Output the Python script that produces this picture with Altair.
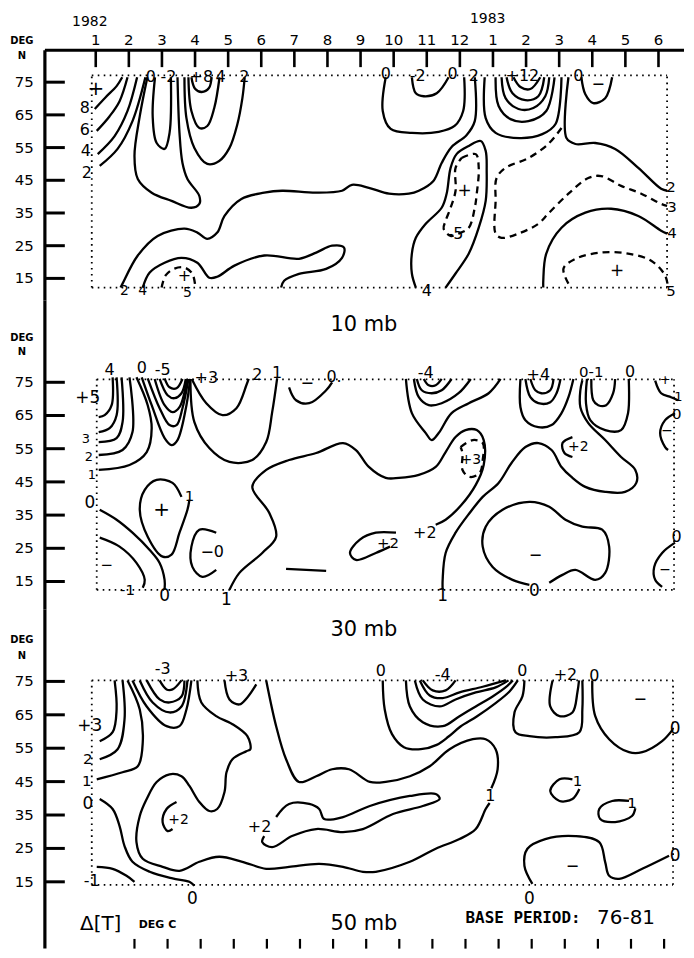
import altair as alt
import pandas as pd

# ---------------- layout / scale constants ----------------
XDOM = [-2.6506, 17.7711]          # months since Jan 1982 (0 = Jan 1982)
W = 678
PANEL_H = [292, 310, 340]
YDOM = [[8.232, 97.256], [6.532, 99.625], [-5.0, 96.493]]   # latitude (deg N)

FONT = "DejaVu Sans"
MONO = "DejaVu Sans Mono"

# ---------------- axis values ----------------
MONTH_POS = [0, 1, 2, 3, 4, 5, 6, 7, 8, 9, 10, 11, 12, 13, 14, 15, 16, 17]
MONTH_LABELS = ["1", "2", "3", "4", "5", "6", "7", "8", "9", "10", "11", "12",
                "1", "2", "3", "4", "5", "6"]
YEAR_LABELS = [("1982", -0.18, 93.3), ("1983", 11.84, 94.2)]
LAT_TICKS = [75, 65, 55, 45, 35, 25, 15]
BOTTOM_TICKS = [1.17, 2.17, 3.17, 4.17, 5.17, 6.17, 7.17, 8.17, 9.17, 10.17,
                11.17, 12.17, 13.17, 14.17, 15.17, 16.17, 17.17]
AXIS_M, TICK_END_M, LABEL_M = -1.536, -0.934, -1.87
BOX = [(-0.12, 17.26, 12.2, 77.1), (0.03, 17.47, 12.5, 75.9), (-0.12, 17.44, 14.1, 75.3)]
DEG_LAT = [(87.5, 82.9), (88.2, 84.0), (87.5, 82.5)]

# ---------------- 10 mb contours (month, lat) ----------------
P1_CURVES = [
    ("solid", [(-0.03, 66.8), (0.3, 70.4), (0.63, 73.8), (0.8, 76.5)]),
    ("solid", [(0.03, 60.1), (0.42, 64.6), (0.72, 69.2), (0.96, 76.5)]),
    ("solid", [(0.06, 53.0), (0.57, 58.5), (0.96, 66.2), (1.25, 76.5)]),
    ("solid", [(0.12, 49.4), (0.66, 54.6), (1.11, 63.1), (1.5, 76.5)]),
    ("solid", [(1.56, 76.5), (1.33, 64.6), (1.17, 52.4), (1.27, 45.4), (1.69, 41.2), (2.29, 38.7),
               (2.89, 36.6), (3.13, 37.8), (3.13, 40.2), (2.77, 45.4), (2.62, 50.3), (2.53, 59.5), (2.47, 76.5)]),
    ("solid", [(1.79, 76.5), (1.72, 64.6), (1.84, 56.4), (2.08, 54.6), (2.23, 59.5), (2.27, 76.5)]),
    ("solid", [(2.89, 76.5), (3.0, 73.0), (3.2, 72.0), (3.42, 73.2), (3.5, 76.5)]),
    ("solid", [(2.8, 76.5), (2.89, 66.2), (3.13, 61.0), (3.37, 61.6), (3.58, 67.1), (3.74, 76.5)]),
    ("solid", [(2.68, 76.5), (2.74, 64.0), (2.98, 54.9), (3.37, 50.0), (3.73, 50.9), (4.04, 54.9),
               (4.28, 62.2), (4.43, 70.1), (4.5, 76.5)]),
    ("solid", [(0.75, 12.2), (0.81, 13.4), (1.27, 22.0), (1.87, 28.0), (2.68, 30.2), (3.07, 29.0),
               (3.37, 27.1), (3.67, 29.0), (3.89, 34.1), (4.4, 39.3), (5.09, 41.2), (5.63, 41.8),
               (6.66, 41.2), (7.44, 41.8), (7.74, 43.6), (8.25, 42.7), (8.86, 40.9), (9.46, 40.9),
               (9.76, 41.8), (10.2, 44.8), (10.45, 50.3), (10.75, 55.2), (11.2, 58.8), (11.45, 63.1),
               (11.45, 76.5)]),
    ("solid", [(1.42, 12.2), (1.63, 16.8), (2.08, 19.8), (2.59, 21.3), (3.07, 19.8), (3.43, 15.2),
               (3.67, 15.5), (4.19, 18.9), (5.09, 22.0), (6.14, 21.0), (6.66, 22.9), (7.14, 25.0),
               (7.5, 24.4), (7.44, 21.3), (6.96, 17.9), (6.14, 16.4), (5.69, 14.3), (5.6, 12.2)]),
    ("dash", [(1.99, 12.2), (2.11, 15.9), (2.38, 18.0), (2.68, 18.3), (2.92, 16.4), (3.01, 12.2)]),
    ("solid", [(8.76, 76.5), (8.67, 66.2), (8.91, 60.7), (9.55, 59.5), (10.36, 59.8), (10.84, 61.6),
               (11.1, 66.2), (11.13, 76.5)]),
    ("solid", [(9.55, 76.5), (9.67, 71.6), (9.91, 70.7), (10.3, 71.6), (10.66, 76.5)]),
    ("solid", [(11.75, 76.5), (11.78, 64.0), (12.08, 59.5), (12.8, 57.9), (13.49, 59.1), (13.89, 62.2), (14.07, 76.5)]),
    ("solid", [(12.08, 76.5), (12.17, 67.7), (12.53, 63.7), (13.07, 63.1), (13.61, 66.2), (13.86, 76.5)]),
    ("solid", [(12.26, 76.5), (12.38, 70.1), (12.77, 66.8), (13.22, 67.1), (13.58, 70.7), (13.7, 76.5)]),
    ("solid", [(12.41, 76.5), (12.59, 71.6), (12.98, 69.5), (13.37, 70.7), (13.55, 76.5)]),
    ("solid", [(12.62, 76.5), (12.83, 73.5), (13.13, 72.9), (13.43, 76.5)]),
    ("solid", [(14.67, 76.5), (14.79, 71.3), (15.03, 68.6), (15.39, 70.1), (15.6, 76.5)]),
    ("solid", [(14.28, 76.5), (14.22, 57.9), (14.49, 56.1), (15.09, 56.4), (15.69, 54.6), (16.39, 48.8),
               (17.08, 42.4), (17.26, 41.8)]),
    ("dash", [(14.07, 61.0), (13.67, 56.1), (13.07, 51.8), (12.38, 48.8), (12.11, 45.7), (12.08, 38.7),
              (12.08, 28.7), (12.26, 27.4), (12.77, 28.7), (13.37, 31.7), (13.67, 34.8), (14.28, 40.9),
              (14.88, 45.7), (15.27, 46.3), (15.87, 43.3), (16.48, 40.9), (17.08, 37.8), (17.26, 37.2)]),
    ("solid", [(13.52, 12.2), (13.52, 14.3), (13.61, 22.6), (14.07, 30.5), (14.79, 35.1), (15.57, 36.3),
               (16.39, 34.1), (17.08, 29.6), (17.26, 28.7)]),
    ("dash", [(14.28, 13.4), (14.13, 18.0), (14.49, 21.0), (15.27, 22.9), (16.08, 22.6), (16.78, 20.4),
              (17.2, 15.9), (17.29, 12.2)]),
    ("solid", [(9.67, 12.2), (9.55, 16.5), (9.55, 22.6), (9.67, 27.4), (9.97, 31.7), (10.45, 36.6),
               (10.6, 40.9), (10.72, 48.8), (10.9, 53.0), (11.27, 55.5), (11.63, 57.0), (11.78, 54.0),
               (11.81, 47.9), (11.78, 38.7), (11.57, 30.5), (11.27, 22.6), (10.87, 16.5), (10.57, 12.2)]),
    ("dash", [(11.05, 51.8), (11.48, 53.0), (11.57, 48.8), (11.51, 40.9), (11.45, 36.6), (11.27, 30.5),
              (10.96, 28.7), (10.72, 28.0), (10.51, 30.2), (10.57, 32.6), (10.72, 36.6), (10.87, 41.8),
              (10.87, 48.8), (11.05, 51.8)]),
]
P1_LABELS = [
    ("+", 0.0, 72.9, 20), ("8", -0.33, 67.0, 16), ("6", -0.33, 60.4, 16), ("4", -0.3, 53.9, 16),
    ("2", -0.27, 47.3, 16), ("0", 1.66, 76.6, 16), ("-2", 2.2, 76.6, 16), ("+8", 3.19, 76.6, 16),
    ("4", 3.77, 76.6, 16), ("2", 4.49, 76.6, 16), ("2", 0.87, 11.0, 14), ("4", 1.42, 11.0, 14),
    ("+", 2.68, 15.6, 16), ("5", 2.77, 10.6, 14), ("0", 8.76, 77.4, 16), ("-2", 9.73, 77.0, 16),
    ("0", 10.78, 77.4, 16), ("2", 11.42, 77.0, 16), ("+12", 12.89, 77.0, 16), ("0", 14.58, 77.0, 16),
    ("−", 15.18, 74.5, 16), ("+", 11.14, 41.8, 17), ("-5", 10.87, 28.5, 16), ("+", 15.75, 17.4, 17),
    ("2", 17.38, 43.0, 15), ("3", 17.41, 36.7, 15), ("4", 17.41, 28.8, 15), ("5", 17.38, 11.0, 15),
    ("4", 10.0, 11.0, 16),
]

# ---------------- 30 mb contours ----------------
P2_CURVES = [
    ("solid", [(0.51, 76.5), (0.48, 68.1), (0.27, 65.1), (0.09, 64.5)]),
    ("solid", [(0.63, 76.5), (0.63, 65.1), (0.42, 61.2), (0.09, 60.0)]),
    ("solid", [(0.78, 76.5), (0.81, 63.0), (0.63, 58.2), (0.09, 57.0)]),
    ("solid", [(1.02, 76.5), (1.11, 60.0), (0.81, 54.6), (0.09, 53.1)]),
    ("solid", [(1.23, 76.5), (1.57, 68.1), (1.69, 61.2), (1.54, 54.0), (1.02, 50.1), (0.09, 48.6)]),
    ("solid", [(1.39, 76.5), (1.69, 68.1), (2.08, 58.2), (2.29, 56.1), (2.47, 57.6), (2.74, 68.1), (2.85, 76.0)]),
    ("solid", [(1.57, 76.2), (1.93, 67.2), (2.23, 62.1), (2.44, 62.1), (2.62, 67.2), (2.8, 76.0)]),
    ("solid", [(1.78, 76.0), (2.08, 68.1), (2.32, 66.0), (2.53, 67.5), (2.76, 76.0)]),
    ("solid", [(1.93, 76.0), (2.17, 71.1), (2.38, 70.2), (2.59, 71.7), (2.72, 76.0)]),
    ("solid", [(2.08, 76.2), (2.23, 73.5), (2.44, 73.2), (2.62, 76.0)]),
    ("solid", [(2.9, 76.0), (3.34, 68.7), (3.83, 65.1), (4.25, 67.2), (4.55, 74.1), (4.62, 76.0)]),
    ("solid", [(2.86, 76.0), (2.98, 63.0), (3.43, 55.2), (4.04, 51.0), (4.73, 51.6), (5.15, 57.0),
               (5.33, 66.0), (5.48, 76.2)]),
    ("solid", [(5.84, 73.5), (6.05, 69.6), (6.45, 68.7), (6.96, 72.6), (7.14, 75.0)]),
    ("solid", [(4.04, 12.5), (4.34, 17.6), (5.03, 23.6), (5.45, 28.5), (5.24, 35.7), (4.73, 43.5),
               (5.15, 48.6), (5.84, 51.6), (6.66, 53.7), (7.47, 56.7), (7.86, 54.6), (8.25, 49.5),
               (8.76, 46.2), (9.16, 46.2), (9.76, 47.1), (10.27, 49.5), (10.57, 54.0), (10.87, 58.5),
               (11.17, 60.6), (11.51, 60.6), (11.72, 57.6), (11.72, 50.1), (11.48, 44.1), (11.05, 38.1),
               (10.57, 33.6), (10.27, 32.1)]),
    ("dash", [(11.02, 55.5), (11.39, 57.6), (11.69, 56.7), (11.69, 51.6), (11.6, 47.7), (11.3, 46.5),
              (11.08, 48.6), (11.08, 53.7), (11.02, 55.5)]),
    ("solid", [(9.07, 29.7), (8.46, 29.7), (7.98, 27.6), (7.68, 23.6), (7.86, 21.5), (8.46, 23.6), (8.89, 25.5)]),
    ("solid", [(10.48, 12.5), (10.48, 15.5), (10.57, 23.6), (10.87, 29.7), (11.3, 35.7), (11.69, 40.5),
               (12.17, 44.7), (12.56, 50.7), (12.98, 55.5), (13.37, 56.7), (13.77, 54.6), (14.07, 49.5),
               (14.37, 46.5), (14.79, 43.5), (15.39, 42.0), (15.99, 42.0), (16.33, 44.7), (16.3, 48.6),
               (15.87, 52.5), (15.39, 57.6), (14.88, 62.7), (14.64, 67.5), (14.64, 72.6), (14.7, 75.6)]),
    ("solid", [(12.83, 76.0), (12.83, 67.5), (12.98, 63.6), (13.37, 61.5), (13.77, 62.1), (14.07, 65.7),
               (14.28, 70.5), (14.43, 76.0)]),
    ("solid", [(12.98, 76.0), (13.13, 70.5), (13.37, 68.7), (13.73, 69.0), (13.92, 71.7), (14.04, 76.0)]),
    ("solid", [(13.13, 76.0), (13.28, 72.6), (13.46, 71.7), (13.73, 72.6), (13.83, 76.0)]),
    ("solid", [(14.84, 76.0), (14.81, 68.7), (14.94, 63.6), (15.39, 60.6), (15.87, 60.6), (16.08, 65.7), (16.1, 76.0)]),
    ("solid", [(14.97, 76.0), (15.03, 69.6), (15.18, 68.1), (15.42, 68.1), (15.63, 71.7), (15.69, 76.0)]),
    ("solid", [(16.9, 75.5), (17.08, 71.7), (17.38, 70.5), (17.59, 69.6)]),
    ("solid", [(17.5, 65.7), (17.2, 63.6), (17.05, 59.7), (17.2, 55.5), (17.29, 54.6)]),
    ("solid", [(17.5, 26.7), (17.11, 23.6), (16.87, 19.4), (16.9, 15.5), (17.11, 13.4)]),
    ("solid", [(9.37, 76.0), (9.55, 65.7), (9.97, 59.7), (10.15, 57.6), (10.36, 59.7), (10.75, 65.7),
               (11.27, 68.7), (11.87, 71.7), (12.23, 76.0)]),
    ("solid", [(9.61, 76.0), (9.76, 70.5), (10.06, 68.1), (10.45, 68.7), (10.96, 71.7), (11.33, 76.0)]),
    ("solid", [(9.7, 76.0), (9.85, 72.6), (10.15, 71.7), (10.45, 72.6), (10.75, 76.0)]),
    ("solid", [(9.91, 76.0), (10.06, 74.1), (10.27, 74.1), (10.45, 76.0)]),
    ("solid", [(13.1, 14.0), (12.59, 15.5), (11.99, 19.4), (11.69, 25.5), (11.78, 31.5), (12.29, 36.6),
               (13.1, 39.0), (13.7, 37.5), (14.19, 33.6), (14.7, 31.5), (15.3, 30.6), (15.51, 25.5),
               (15.39, 17.6), (15.09, 15.5), (14.49, 18.5), (14.1, 17.0), (13.7, 14.6)]),
    ("solid", [(14.4, 58.5), (14.1, 56.7), (14.16, 53.7), (14.4, 52.5)]),
    ("solid", [(2.59, 40.5), (2.32, 44.7), (1.84, 45.6), (1.48, 42.6), (1.33, 36.6), (1.57, 28.5),
               (2.02, 22.5), (2.29, 23.1), (2.53, 29.7), (2.77, 36.6), (2.83, 39.6)]),
    ("solid", [(3.64, 29.7), (3.13, 30.6), (2.89, 25.5), (2.92, 19.4), (3.22, 16.4), (3.64, 18.5)]),
    ("solid", [(0.12, 36.6), (0.63, 33.6), (1.11, 29.7), (1.63, 24.5), (1.93, 20.6), (2.08, 15.5), (2.08, 12.5)]),
    ("solid", [(0.12, 28.2), (0.72, 25.5), (1.23, 20.6), (1.48, 15.5), (1.42, 13.1)]),
    ("solid", [(5.75, 18.8), (6.96, 18.2)]),
]
P2_LABELS = [
    ("4", 0.42, 78.6, 16), ("0", 1.39, 79.2, 16), ("-5", 2.02, 78.6, 16), ("+3", 3.34, 76.2, 16),
    ("2", 4.88, 77.1, 16), ("1", 5.48, 77.7, 16), ("−", 6.39, 74.7, 16), ("0.", 7.2, 76.5, 16),
    ("+5", -0.24, 70.2, 17), ("3", -0.3, 58.0, 13), ("2", -0.21, 52.6, 13), ("1", -0.12, 47.2, 13),
    ("0", -0.18, 38.7, 17), ("−", 0.33, 20.0, 15), ("-1", 0.96, 12.5, 15), ("0", 2.08, 10.7, 17),
    ("1", 3.95, 9.5, 17), ("+", 1.99, 36.6, 20), ("1", 2.83, 40.8, 15), ("−0", 3.52, 24.0, 16),
    ("-4", 9.97, 77.7, 16), ("+4", 13.37, 77.1, 16), ("0-1", 14.97, 78.0, 15), ("0", 16.14, 78.0, 16),
    ("+", 17.2, 75.8, 13), ("1", 17.6, 70.6, 13), ("0", 17.55, 65.3, 15), ("−", 17.26, 60.4, 14),
    ("+3", 11.33, 51.6, 14), ("+2", 14.58, 55.5, 14), ("+2", 9.94, 29.7, 16), ("+2", 8.83, 26.6, 15),
    ("−", 13.28, 23.0, 16), ("0", 13.25, 12.0, 17), ("1", 10.48, 10.7, 17), ("0", 17.55, 28.5, 16),
    ("−", 17.2, 18.5, 14),
]

# ---------------- 50 mb contours ----------------
P3_CURVES = [
    ("solid", [(0.57, 75.3), (0.63, 66.6), (0.51, 59.8), (0.12, 57.1)]),
    ("solid", [(0.81, 75.3), (0.87, 63.7), (0.66, 54.7), (0.12, 51.7)]),
    ("solid", [(0.96, 75.3), (1.33, 66.6), (1.42, 56.8), (1.27, 49.6), (0.81, 47.8), (0.03, 45.7)]),
    ("solid", [(1.11, 75.3), (1.54, 67.5), (2.14, 61.6), (2.53, 61.6), (2.74, 66.6), (2.89, 75.3)]),
    ("solid", [(1.33, 75.3), (1.72, 68.7), (2.23, 65.7), (2.59, 67.5), (2.77, 75.3)]),
    ("solid", [(1.54, 75.3), (1.93, 69.6), (2.23, 68.7), (2.59, 70.5), (2.68, 75.3)]),
    ("solid", [(1.93, 75.3), (2.14, 72.6), (2.32, 72.6), (2.59, 75.3)]),
    ("solid", [(3.89, 75.3), (4.04, 69.6), (4.34, 68.1), (4.58, 70.2), (4.85, 74.1)]),
    ("solid", [(3.07, 75.3), (3.19, 68.7), (3.64, 64.6), (4.13, 62.2), (4.58, 58.6), (4.67, 54.7),
               (4.55, 54.1), (4.13, 51.7), (3.95, 47.8), (3.89, 41.9), (3.67, 36.8), (3.43, 36.2),
               (3.13, 38.9), (2.83, 43.7), (2.59, 46.6), (2.23, 47.2), (1.84, 44.9), (1.54, 39.8),
               (1.33, 34.7), (1.23, 26.9), (1.42, 21.9), (2.02, 19.5), (2.53, 18.3), (3.13, 21.0),
               (3.73, 22.5), (4.43, 21.0), (5.15, 18.9), (5.84, 19.5), (6.75, 20.4), (7.47, 19.5),
               (8.07, 18.0), (8.46, 18.0), (9.49, 21.0), (10.27, 24.9), (10.99, 27.8), (11.48, 30.8),
               (11.78, 36.8), (11.9, 38.6)]),
    ("solid", [(5.15, 75.3), (5.45, 61.6), (5.75, 51.7), (6.14, 44.9), (6.66, 46.6), (7.14, 48.7),
               (7.65, 48.7), (8.28, 44.9), (8.76, 44.9), (9.49, 46.6), (10.09, 49.6), (10.69, 54.7),
               (11.39, 57.7), (11.78, 57.7), (12.08, 54.7), (12.14, 48.7), (11.95, 43.0)]),
    ("solid", [(8.67, 75.3), (8.73, 66.6), (8.95, 59.2), (9.31, 55.3), (9.82, 54.7), (10.3, 56.0),
               (10.66, 58.5), (11.02, 61.5), (11.51, 64.5), (12.08, 68.5), (12.5, 72.0), (12.75, 75.3)]),
    ("solid", [(9.37, 75.3), (9.49, 67.5), (9.88, 62.8), (10.48, 61.6), (10.99, 64.6), (11.48, 67.5),
               (11.99, 70.5), (12.38, 73.2), (12.6, 75.3)]),
    ("solid", [(9.64, 75.3), (9.88, 69.6), (10.39, 67.5), (10.87, 69.6), (11.48, 71.7), (12.08, 73.2), (12.47, 75.3)]),
    ("solid", [(9.79, 75.3), (10.09, 70.8), (10.48, 70.0), (10.99, 71.7), (11.69, 73.4), (12.38, 75.3)]),
    ("solid", [(9.88, 75.3), (10.18, 72.3), (10.57, 72.3), (10.87, 75.3)]),
    ("solid", [(13.8, 75.3), (13.73, 67.5), (14.01, 64.6), (14.4, 65.7), (14.55, 71.7), (14.6, 75.3)]),
    ("solid", [(12.95, 75.3), (12.89, 70.5), (12.65, 65.7), (12.68, 59.8), (13.1, 58.6), (13.89, 58.3),
               (14.61, 59.8), (14.7, 66.6), (14.7, 75.3)]),
    ("solid", [(15.0, 75.3), (15.09, 64.6), (15.51, 57.7), (16.11, 53.8), (16.51, 53.8), (17.11, 57.1), (17.44, 60.7)]),
    ("solid", [(14.4, 45.7), (14.01, 45.7), (13.73, 42.2), (14.01, 39.2), (14.4, 39.8), (14.61, 42.8)]),
    ("solid", [(16.11, 39.2), (15.6, 39.2), (15.21, 36.8), (15.24, 33.8), (15.69, 32.9), (16.2, 34.7), (16.3, 37.0)]),
    ("solid", [(13.19, 14.4), (12.95, 19.8), (13.04, 24.9), (13.58, 27.8), (14.49, 28.7), (15.21, 26.9),
               (15.39, 20.9), (15.51, 16.8), (15.81, 15.9), (16.51, 18.9), (17.32, 22.8)]),
    ("solid", [(2.44, 38.9), (2.14, 36.8), (2.02, 32.9), (2.17, 30.2), (2.32, 30.8)]),
    ("solid", [(5.45, 34.4), (5.84, 38.3), (6.45, 38.3), (6.75, 36.8), (6.9, 33.8), (7.47, 34.4),
               (8.28, 37.7), (9.49, 40.7), (10.27, 41.3), (10.39, 39.8), (9.88, 37.7), (8.98, 35.3),
               (8.07, 30.8), (7.47, 29.9), (6.66, 30.8), (5.93, 28.7), (5.33, 25.4), (5.03, 26.9), (5.09, 28.7)]),
    ("solid", [(0.12, 39.8), (0.51, 36.8), (0.72, 31.7), (0.87, 25.7), (1.11, 21.0), (1.63, 18.0),
               (2.32, 16.0), (2.83, 15.0), (2.98, 13.8)]),
    ("solid", [(0.03, 19.5), (0.51, 18.9), (0.93, 16.8), (1.17, 15.0)]),
]
P3_LABELS = [
    ("-3", 2.02, 78.6, 16), ("+3", 4.25, 76.7, 16), ("+3", -0.18, 61.6, 17), ("2", -0.24, 51.8, 15),
    ("1", -0.27, 45.2, 15), ("0", -0.24, 38.3, 17), ("-1", -0.12, 15.3, 16), ("+2", 2.5, 33.5, 14),
    ("+2", 4.95, 31.4, 16), ("0", 2.92, 9.9, 17), ("0", 8.61, 78.0, 16), ("-4", 10.48, 77.0, 16),
    ("0", 12.89, 78.0, 16), ("+2", 14.19, 77.0, 16), ("0", 15.06, 76.6, 16), ("−", 16.45, 69.6, 16),
    ("0", 17.5, 60.7, 17), ("1", 11.92, 40.8, 16), ("1", 14.55, 45.3, 15), ("1", 16.2, 38.6, 15),
    ("−", 14.4, 19.8, 16), ("0", 17.5, 22.8, 17), ("0", 13.1, 9.9, 17),
]

TITLES = [[], [("10 mb", 8.1, 92.1, 21)], [("30 mb", 8.1, 90.5, 21), ("50 mb", 8.1, 2.4, 21),
                                          ("Δ[T]", 0.15, 2.4, 20), ("76-81", 16.02, 4.3, 20)]]


def make_panel(i, curves, labels):
    ydom = YDOM[i]
    x = alt.X("m:Q", scale=alt.Scale(domain=XDOM, nice=False, zero=False), axis=None)
    y = alt.Y("lat:Q", scale=alt.Scale(domain=ydom, nice=False, zero=False), axis=None)

    solid, dash = [], []
    for cid, (style, pts) in enumerate(curves):
        for j, (m, lat) in enumerate(pts):
            (solid if style == "solid" else dash).append({"cid": cid, "idx": j, "m": m, "lat": lat})

    layers = []
    rules = []
    top = ydom[1]
    if i == 0:
        top = 84.76
        rules.append({"m": AXIS_M, "m2": XDOM[1], "lat": 84.76, "lat2": 84.76, "w": 3.2})
        for mp in MONTH_POS:
            rules.append({"m": mp, "m2": mp, "lat": 84.76, "lat2": 79.6, "w": 2.6})
    rules.append({"m": AXIS_M, "m2": AXIS_M, "lat": ydom[0], "lat2": top, "w": 3.2})
    for lt in LAT_TICKS:
        rules.append({"m": AXIS_M, "m2": TICK_END_M, "lat": lt, "lat2": lt, "w": 3.0})
    if i == 2:
        for bt in BOTTOM_TICKS:
            rules.append({"m": bt, "m2": bt, "lat": -2.1, "lat2": ydom[0], "w": 2.2})
    layers.append(alt.Chart(pd.DataFrame(rules)).mark_rule(color="black").encode(
        x=x, x2=alt.X2("m2"), y=y, y2=alt.Y2("lat2"),
        strokeWidth=alt.StrokeWidth("w:Q", scale=None)))

    m0, m1, l0, l1 = BOX[i]
    box = [{"m": m0, "m2": m1, "lat": l1, "lat2": l1}, {"m": m0, "m2": m1, "lat": l0, "lat2": l0},
           {"m": m0, "m2": m0, "lat": l0, "lat2": l1}, {"m": m1, "m2": m1, "lat": l0, "lat2": l1}]
    layers.append(alt.Chart(pd.DataFrame(box)).mark_rule(
        color="black", strokeWidth=1.8, strokeDash=[1.6, 4.4]).encode(
        x=x, x2=alt.X2("m2"), y=y, y2=alt.Y2("lat2")))

    layers.append(alt.Chart(pd.DataFrame(solid)).mark_line(
        color="black", strokeWidth=2.3, interpolate="catmull-rom").encode(
        x=x, y=y, detail="cid:N", order="idx:Q"))
    if dash:
        layers.append(alt.Chart(pd.DataFrame(dash)).mark_line(
            color="black", strokeWidth=2.3, strokeDash=[7, 5], interpolate="catmull-rom").encode(
            x=x, y=y, detail="cid:N", order="idx:Q"))

    lab = pd.DataFrame([{"t": t, "m": m, "lat": la, "fs": fs} for t, m, la, fs in labels + TITLES[i]])
    layers.append(alt.Chart(lab).mark_text(font=FONT, color="black", baseline="middle", align="center").encode(
        x=x, y=y, text="t:N", size=alt.Size("fs:Q", scale=None, legend=None)))

    latlab = pd.DataFrame([{"t": str(v), "m": LABEL_M, "lat": v} for v in LAT_TICKS])
    layers.append(alt.Chart(latlab).mark_text(font=FONT, fontSize=15, color="black", align="right",
                                              baseline="middle").encode(x=x, y=y, text="t:N"))
    d1, d2 = DEG_LAT[i]
    deg = pd.DataFrame([{"t": "DEG", "m": -2.23, "lat": d1}, {"t": "N", "m": -2.23, "lat": d2}])
    layers.append(alt.Chart(deg).mark_text(font=FONT, fontSize=10, fontWeight="bold", color="black",
                                           baseline="middle").encode(x=x, y=y, text="t:N"))

    if i == 0:
        ml = pd.DataFrame([{"t": t, "m": mp, "lat": 87.8} for t, mp in zip(MONTH_LABELS, MONTH_POS)])
        layers.append(alt.Chart(ml).mark_text(font=FONT, fontSize=15, color="black",
                                              baseline="middle").encode(x=x, y=y, text="t:N"))
        yl = pd.DataFrame([{"t": t, "m": mp, "lat": la} for t, mp, la in YEAR_LABELS])
        layers.append(alt.Chart(yl).mark_text(font=FONT, fontSize=14, color="black",
                                              baseline="middle").encode(x=x, y=y, text="t:N"))
    if i == 2:
        sm = pd.DataFrame([{"t": "DEG C", "m": 1.3, "lat": 2.0}])
        layers.append(alt.Chart(sm).mark_text(font=FONT, fontSize=11, fontWeight="bold", color="black",
                                              align="left", baseline="middle").encode(x=x, y=y, text="t:N"))
        bp = pd.DataFrame([{"t": "BASE PERIOD:", "m": 11.17, "lat": 4.2}])
        layers.append(alt.Chart(bp).mark_text(font=MONO, fontSize=16, fontWeight="bold", color="black",
                                              align="left", baseline="middle").encode(x=x, y=y, text="t:N"))

    return alt.layer(*layers).properties(width=W, height=PANEL_H[i])


p1 = make_panel(0, P1_CURVES, P1_LABELS)
p2 = make_panel(1, P2_CURVES, P2_LABELS)
p3 = make_panel(2, P3_CURVES, P3_LABELS)

chart = alt.vconcat(p1, p2, p3, spacing=0, bounds="flush").properties(
    padding=0, background="white").configure_view(stroke=None)

chart.save("out.html", embed_options={"renderer": "svg", "actions": False})
